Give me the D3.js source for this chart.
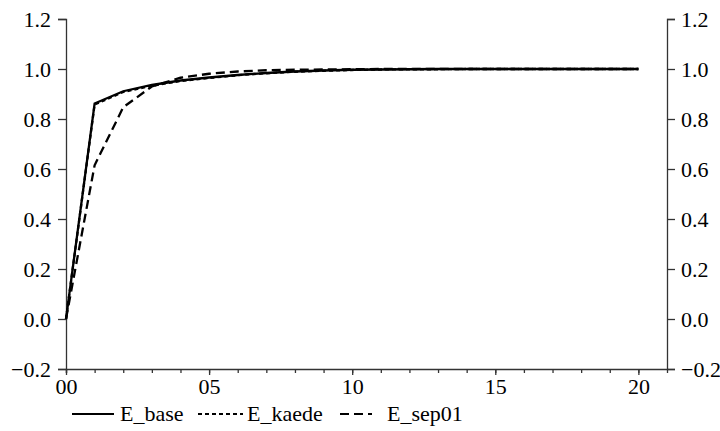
<!DOCTYPE html>
<html>
<head>
<meta charset="utf-8">
<script src="https://cdn.jsdelivr.net/npm/d3@7"></script>
</head>
<body style="margin:0">
<svg id="chart" width="720" height="431" font-family="Liberation Serif"></svg>
<script>
// x positions 0..20
const xValues = d3.range(0, 21);
const eBase  = [0, 0.862, 0.911, 0.936, 0.954, 0.966, 0.976, 0.984, 0.990, 0.994, 0.997, 0.998, 0.999, 1, 1, 1, 1, 1, 1, 1, 1];
const eKaede = [0, 0.858, 0.908, 0.933, 0.952, 0.964, 0.975, 0.983, 0.989, 0.993, 0.996, 0.998, 0.999, 0.999, 1, 1, 1, 1, 1, 1, 1];
const eSep01 = [0, 0.615, 0.847, 0.930, 0.965, 0.981, 0.990, 0.995, 0.997, 0.998, 0.999, 1, 1, 1, 1, 1, 1, 1, 1, 1, 1];
const yTicks = [-0.2, 0, 0.2, 0.4, 0.6, 0.8, 1.0, 1.2];
const xMajorTicks = [0, 5, 10, 15, 20];
const seriesNames = ["E_base", "E_kaede", "E_sep01"];

const svg = d3.select("#chart");
const plotLeft = 66, plotRight = 667, plotTop = 19, plotBottom = 369;
const fontSize = 22;

const x = d3.scaleLinear().domain([0, 21]).range([plotLeft, plotRight]);
const y = d3.scaleLinear().domain([-0.2, 1.2]).range([plotBottom, plotTop]);

const axisColor = "#333";

// draw tick labels ourselves so the axis groups carry no font settings
function styleAxis(g) {
    g.attr("font-family", "Liberation Serif").attr("font-size", fontSize);
    g.selectAll("path,line").attr("stroke", axisColor).attr("stroke-width", 1.3);
    g.selectAll("text")
        .attr("fill", "#000")
        .attr("font-family", "Liberation Serif")
        .style("font-family", "'Liberation Serif'");
}

svg.append("g")
    .attr("transform", `translate(${plotLeft},0)`)
    .call(d3.axisLeft(y).tickValues(yTicks).tickFormat(d3.format(".1f")).tickSizeOuter(0).tickSize(8).tickPadding(7))
    .call(styleAxis);

svg.append("g")
    .attr("transform", `translate(${plotRight},0)`)
    .call(d3.axisRight(y).tickValues(yTicks).tickFormat(d3.format(".1f")).tickSizeOuter(0).tickSize(8).tickPadding(6))
    .call(styleAxis);

svg.append("g")
    .attr("transform", `translate(0,${plotBottom})`)
    .call(d3.axisBottom(x).tickValues(d3.range(0, 21)).tickFormat("").tickSizeOuter(0).tickSize(4))
    .call(styleAxis);

svg.append("g")
    .attr("transform", `translate(0,${plotBottom})`)
    .call(d3.axisBottom(x).tickValues(xMajorTicks).tickFormat(d3.format("02d")).tickSizeOuter(0).tickSize(6).tickPadding(3))
    .call(g => g.select(".domain").remove())
    .call(styleAxis);

const line = d3.line().x((d, i) => x(xValues[i])).y(d => y(d));

const styles = [
    { data: eBase, dash: null },
    { data: eKaede, dash: "4,3" },
    { data: eSep01, dash: "9,5" }
];

svg.append("g").selectAll("path")
    .data(styles)
    .enter()
    .append("path")
    .attr("d", d => line(d.data))
    .attr("fill", "none")
    .attr("stroke", "#000")
    .attr("stroke-width", 2.3)
    .attr("stroke-dasharray", d => d.dash);

// legend
const legendItems = [
    { name: seriesNames[0], dash: null, x1: 72, x2: 114, tx: 120 },
    { name: seriesNames[1], dash: "4,3", x1: 198, x2: 243, tx: 247 },
    { name: seriesNames[2], dash: "9,5", x1: 340, x2: 372, tx: 387 }
];
legendItems.forEach(d => {
    svg.append("line")
        .attr("x1", d.x1).attr("x2", d.x2)
        .attr("y1", 414).attr("y2", 414)
        .attr("stroke", "#000").attr("stroke-width", 2)
        .attr("stroke-dasharray", d.dash);
    svg.append("text")
        .attr("x", d.tx).attr("y", 421)
        .attr("font-size", fontSize)
        .style("font-family", "'Liberation Serif'")
        .text(d.name);
});
</script>
</body>
</html>
